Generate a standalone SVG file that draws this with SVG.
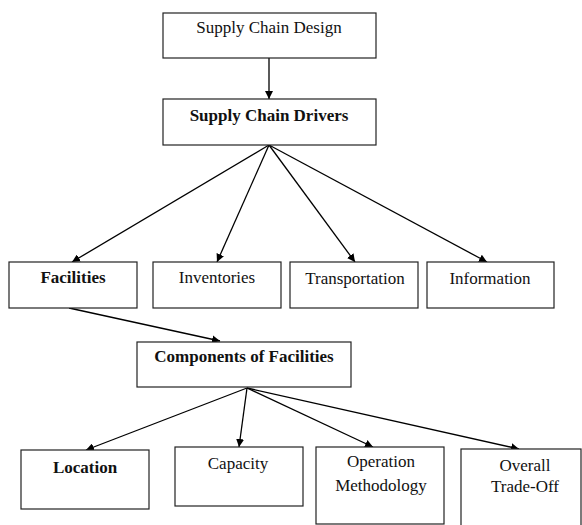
<svg xmlns="http://www.w3.org/2000/svg" width="582" height="525" viewBox="0 0 582 525">
<style>
rect{fill:#fff;stroke:#222;stroke-width:1.2}
text{font-family:"Liberation Serif","Times New Roman",serif;font-size:17px;fill:#111;text-anchor:middle}
.b{font-weight:bold}
line{stroke:#000;stroke-width:1.3}
</style>
<defs>
<marker id="ah" viewBox="0 0 10 10" refX="10" refY="5" markerWidth="8" markerHeight="8" markerUnits="userSpaceOnUse" orient="auto">
<path d="M0,0 L10,5 L0,10 z" fill="#000"/>
</marker>
</defs>
<g id="connectors">
<line x1="269" y1="58" x2="269" y2="99" marker-end="url(#ah)"/>
<line x1="269" y1="145" x2="72" y2="262" marker-end="url(#ah)"/>
<line x1="269" y1="145" x2="217" y2="262" marker-end="url(#ah)"/>
<line x1="269" y1="145" x2="355" y2="262" marker-end="url(#ah)"/>
<line x1="269" y1="145" x2="487" y2="262" marker-end="url(#ah)"/>
<line x1="69" y1="308" x2="220" y2="341" marker-end="url(#ah)"/>
<line x1="247" y1="388" x2="86" y2="450" marker-end="url(#ah)"/>
<line x1="247" y1="388" x2="239" y2="447" marker-end="url(#ah)"/>
<line x1="247" y1="388" x2="373" y2="447" marker-end="url(#ah)"/>
<line x1="247" y1="388" x2="519" y2="449" marker-end="url(#ah)"/>
</g>
<g id="design"><rect x="163" y="13" width="213" height="45"/><text x="269" y="33">Supply Chain Design</text></g>
<g id="drivers"><rect x="163" y="99" width="213" height="46"/><text class="b" x="269" y="121">Supply Chain Drivers</text></g>
<g id="facilities"><rect x="9" y="262" width="128" height="46"/><text class="b" x="73" y="283">Facilities</text></g>
<g id="inventories"><rect x="153" y="262" width="128" height="46"/><text x="217" y="283">Inventories</text></g>
<g id="transportation"><rect x="290" y="262" width="128" height="46"/><text x="355" y="284">Transportation</text></g>
<g id="information"><rect x="427" y="262" width="127" height="46"/><text x="490" y="284">Information</text></g>
<g id="components"><rect x="137" y="342" width="214" height="45"/><text class="b" x="244" y="362">Components of Facilities</text></g>
<g id="location"><rect x="21" y="450" width="128" height="59"/><text class="b" x="85" y="473">Location</text></g>
<g id="capacity"><rect x="175" y="447" width="128" height="59"/><text x="238" y="469">Capacity</text></g>
<g id="operation"><rect x="316" y="447" width="128" height="77"/><text x="381" y="467">Operation</text><text x="381" y="491">Methodology</text></g>
<g id="overall"><rect x="461" y="449" width="120" height="80"/><text x="525" y="471">Overall</text><text x="525" y="492">Trade-Off</text></g>
</svg>
